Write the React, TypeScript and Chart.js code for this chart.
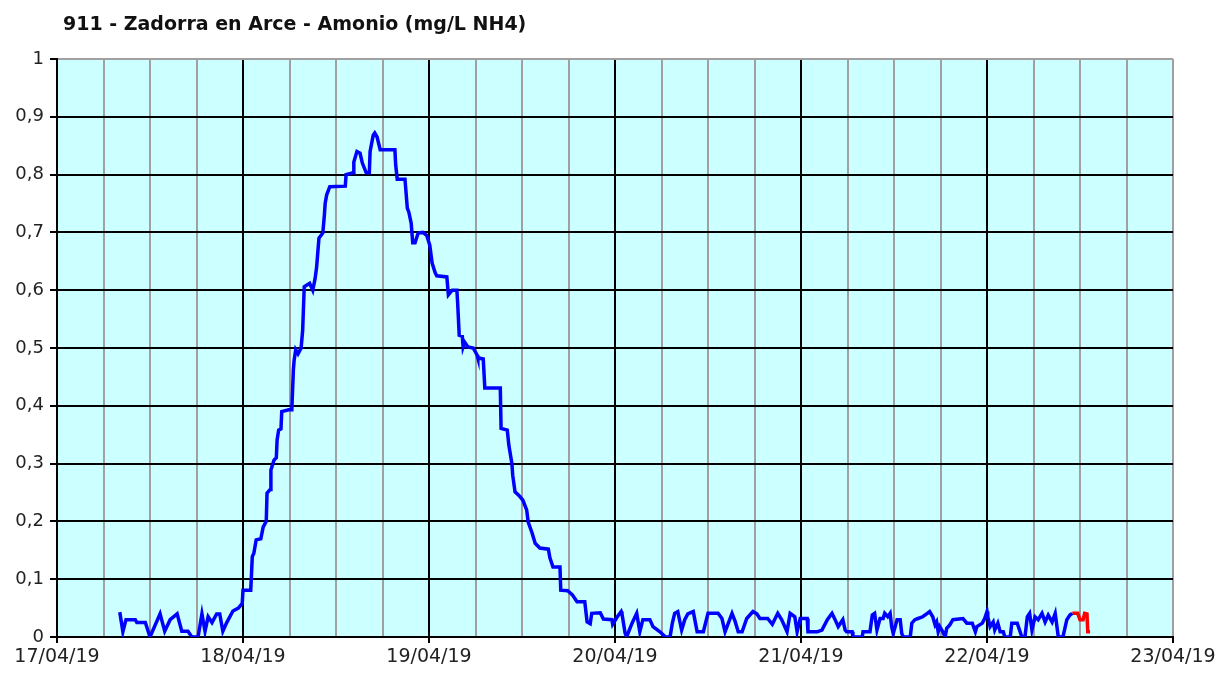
import React, { useEffect, useRef } from "react";
import { Chart, registerables } from "chart.js";

Chart.register(...registerables);

const chartTitle = "911 - Zadorra en Arce - Amonio (mg/L NH4)";
const dayLabels = ["17/04/19", "18/04/19", "19/04/19", "20/04/19", "21/04/19", "22/04/19", "23/04/19"];
const yTickLabels = ["0", "0,1", "0,2", "0,3", "0,4", "0,5", "0,6", "0,7", "0,8", "0,9", "1"];

// hours since 17/04/19 00:00
const blueHours = [
  8.1, 8.5, 8.9, 10.1, 10.3, 11.4, 12.0, 13.3, 13.9, 14.6, 15.5, 16.1, 16.9, 17.4, 18.2, 18.7, 19.1, 19.5, 20.0, 20.6,
  21.0, 21.4, 21.9, 22.7, 23.4, 23.9, 24.0, 25.0, 25.2, 25.4, 25.7, 26.3, 26.6, 27.0, 27.1, 27.5, 27.6, 28.0, 28.3, 28.4,
  28.6, 28.9, 29.0, 29.9, 30.3, 30.5, 30.6, 30.8, 31.1, 31.5, 31.7, 31.9, 32.6, 33.0, 33.3, 33.5, 33.8, 34.3, 34.5, 34.6,
  34.8, 35.2, 37.2, 37.3, 38.2, 38.3, 38.7, 39.1, 39.4, 39.9, 40.3, 40.4, 40.8, 41.0, 41.3, 41.7, 43.6, 43.7, 43.9, 44.9,
  45.2, 45.4, 45.7, 45.9, 46.2, 46.6, 47.2, 47.7, 48.1, 48.4, 48.8, 49.0, 50.3, 50.5, 51.0, 51.6, 51.7, 51.9, 52.3, 52.4,
  52.6, 53.0, 53.7, 54.2, 54.3, 55.0, 55.2, 57.2, 57.3, 58.1, 58.3, 58.7, 58.8, 59.1, 59.6, 60.1, 60.6, 60.8, 61.3, 61.7,
  62.3, 63.4, 63.6, 64.0, 64.9, 65.0, 65.9, 66.5, 67.1, 68.1, 68.4, 68.8, 69.0, 70.1, 70.5, 71.6, 71.7, 72.3, 72.8, 72.9,
  73.3, 73.5, 74.2, 74.8, 75.2, 75.6, 76.5, 76.9, 77.8, 78.5, 79.1, 79.4, 79.7, 80.1, 80.6, 81.0, 81.4, 82.1, 82.6, 83.4,
  84.0, 85.3, 85.8, 86.2, 87.1, 87.5, 87.9, 88.4, 89.0, 89.8, 90.3, 90.7, 91.7, 92.3, 93.0, 93.5, 94.2, 94.6, 95.2, 95.5,
  95.9, 96.8, 96.9, 98.1, 98.7, 99.4, 100.0, 100.4, 100.8, 101.4, 101.7, 101.9, 102.6, 102.7, 103.9, 104.0, 104.9, 105.2, 105.5, 105.8,
  106.2, 106.6, 106.8, 107.2, 107.5, 107.7, 107.9, 108.4, 108.8, 109.0, 109.2, 110.1, 110.3, 110.7, 111.1, 111.7, 112.3, 112.6, 113.0, 113.3,
  113.5, 113.7, 113.9, 114.3, 114.6, 114.8, 115.2, 115.6, 116.9, 117.4, 118.1, 118.5, 118.7, 119.4, 119.7, 120.0, 120.1, 120.4, 120.8, 121.0,
  121.4, 121.7, 122.1, 122.3, 123.0, 123.2, 123.9, 124.5, 124.9, 125.2, 125.5, 125.8, 126.2, 126.6, 127.1, 127.5, 127.9, 128.4, 128.8, 129.2,
  129.8, 130.3, 130.7, 131.0,
];
const blueValues = [
  0.043, 0.009, 0.03, 0.03, 0.025, 0.025, 0, 0.04, 0.01, 0.03, 0.04, 0.01, 0.01, 0, 0, 0.04, 0.01, 0.035, 0.025, 0.04,
  0.04, 0.01, 0.025, 0.045, 0.05, 0.058, 0.081, 0.081, 0.139, 0.145, 0.168, 0.17, 0.19, 0.2, 0.249, 0.255, 0.289, 0.306, 0.31, 0.341,
  0.358, 0.36, 0.39, 0.393, 0.393, 0.462, 0.479, 0.497, 0.49, 0.5, 0.531, 0.606, 0.612, 0.6, 0.62, 0.64, 0.69, 0.699, 0.73, 0.75,
  0.765, 0.779, 0.78, 0.8, 0.803, 0.822, 0.84, 0.837, 0.82, 0.803, 0.803, 0.84, 0.868, 0.872, 0.865, 0.843, 0.843, 0.817, 0.792, 0.792,
  0.742, 0.735, 0.716, 0.682, 0.682, 0.699, 0.7, 0.695, 0.678, 0.647, 0.63, 0.625, 0.623, 0.592, 0.6, 0.6, 0.577, 0.522, 0.52, 0.502,
  0.51, 0.502, 0.5, 0.488, 0.483, 0.481, 0.431, 0.431, 0.361, 0.358, 0.332, 0.3, 0.28, 0.251, 0.245, 0.237, 0.22, 0.199, 0.18, 0.162,
  0.154, 0.152, 0.137, 0.121, 0.121, 0.081, 0.08, 0.073, 0.061, 0.061, 0.026, 0.023, 0.041, 0.042, 0.031, 0.03, 0.022, 0.035, 0.044, 0.04,
  0.007, 0, 0.024, 0.041, 0.009, 0.03, 0.03, 0.018, 0.009, 0, 0, 0.024, 0.041, 0.044, 0.012, 0.03, 0.04, 0.044, 0.009, 0.009,
  0.041, 0.041, 0.032, 0.009, 0.041, 0.027, 0.009, 0.009, 0.032, 0.044, 0.04, 0.032, 0.032, 0.022, 0.041, 0.03, 0.009, 0.041, 0.035, 0.009,
  0.032, 0.032, 0.009, 0.009, 0.012, 0.03, 0.041, 0.03, 0.018, 0.03, 0.012, 0.009, 0.009, 0, 0, 0.009, 0.009, 0.038, 0.041, 0.012,
  0.032, 0.032, 0.041, 0.035, 0.041, 0.018, 0.006, 0.03, 0.03, 0.006, 0, 0, 0.024, 0.03, 0.032, 0.035, 0.041, 0.044, 0.035, 0.021,
  0.026, 0.009, 0.018, 0.009, 0, 0.015, 0.021, 0.03, 0.032, 0.024, 0.024, 0.009, 0.018, 0.024, 0.032, 0.044, 0.035, 0.018, 0.026, 0.012,
  0.024, 0.009, 0.009, 0, 0, 0.024, 0.024, 0, 0, 0.035, 0.041, 0.012, 0.035, 0.03, 0.041, 0.026, 0.038, 0.026, 0.041, 0,
  0, 0.03, 0.038, 0.041,
];
const redHours = [131.0, 131.7, 132.0, 132.4, 132.6, 132.9, 133.0, 133.3];
const redValues = [0.041, 0.041, 0.03, 0.03, 0.041, 0.04, 0.009, 0.009];

const GRID_BLACK = "#000000";
const GRID_GRAY = "#a0a0a0";

const plotBg = {
  id: "plotBg",
  beforeDraw(chart: any) {
    const { ctx, chartArea } = chart;
    ctx.save();
    ctx.fillStyle = "#ccffff";
    ctx.fillRect(chartArea.left, chartArea.top, chartArea.right - chartArea.left, chartArea.bottom - chartArea.top);
    ctx.restore();
  },
};

const titlePlugin = {
  id: "customTitle",
  afterDraw(chart: any) {
    const { ctx } = chart;
    ctx.save();
    ctx.fillStyle = "#111111";
    ctx.font = "bold 19px 'DejaVu Sans'";
    ctx.textBaseline = "alphabetic";
    ctx.textAlign = "left";
    ctx.fillText(chartTitle, 63, 30);
    ctx.restore();
  },
};

export default function App() {
  const canvasRef = useRef<HTMLCanvasElement | null>(null);

  useEffect(() => {
    document.body.style.margin = "0";
    const canvas = canvasRef.current;
    if (!canvas) return;
    const chart = new Chart(canvas, {
      type: "line",
      data: {
        datasets: [
          {
            data: blueHours.map((h, i) => ({ x: h, y: blueValues[i] })),
            borderColor: "#0000ff",
            borderWidth: 3.5,
            pointRadius: 0,
            tension: 0,
            fill: false,
          },
          {
            data: redHours.map((h, i) => ({ x: h, y: redValues[i] })),
            borderColor: "#ff0000",
            borderWidth: 3.5,
            pointRadius: 0,
            tension: 0,
            fill: false,
          },
        ],
      },
      options: {
        responsive: false,
        animation: false,
        events: [],
        layout: { padding: { top: 59, right: 43, bottom: 0, left: 0 } },
        plugins: {
          legend: { display: false },
          title: { display: false },
          tooltip: { enabled: false },
        },
        scales: {
          x: {
            type: "linear",
            min: 0,
            max: 144,
            afterFit(scale: any) {
              scale.height = 36;
              scale.paddingLeft = 0;
              scale.paddingRight = 0;
            },
            afterBuildTicks(scale: any) {
              const t = [];
              for (let v = 0; v <= 144; v += 6) t.push({ value: v });
              scale.ticks = t;
            },
            ticks: {
              autoSkip: false,
              maxRotation: 0,
              padding: 3,
              color: "#222222",
              font: { family: "'DejaVu Sans'", size: 19 },
              callback: (v: any) => (Number(v) % 24 === 0 ? dayLabels[Number(v) / 24] : ""),
            },
            grid: {
              lineWidth: 2,
              tickLength: 6,
              color: (c: any) => {
                const v = c.tick ? c.tick.value : 0;
                if (v === 144) return GRID_GRAY;
                return v % 24 === 0 ? GRID_BLACK : GRID_GRAY;
              },
              tickColor: (c: any) => {
                const v = c.tick ? c.tick.value : 0;
                return v % 24 === 0 ? GRID_BLACK : "rgba(0,0,0,0)";
              },
            },
            border: { display: true, color: GRID_BLACK, width: 2 },
          },
          y: {
            min: 0,
            max: 1,
            afterFit(scale: any) {
              scale.width = 57;
              scale.paddingTop = 0;
              scale.paddingBottom = 0;
            },
            ticks: {
              stepSize: 0.1,
              padding: 6,
              color: "#222222",
              font: { family: "'DejaVu Sans'", size: 18 },
              callback: (v: any) => yTickLabels[Math.round(Number(v) * 10)],
            },
            grid: {
              lineWidth: 2,
              tickLength: 7,
              color: (c: any) => {
                const v = c.tick ? c.tick.value : 0;
                return Math.abs(v - 1) < 1e-6 ? GRID_GRAY : GRID_BLACK;
              },
              tickColor: GRID_BLACK,
            },
            border: { display: true, color: GRID_BLACK, width: 2 },
          },
        },
      },
      plugins: [plotBg, titlePlugin],
    });
    return () => chart.destroy();
  }, []);

  return (
    <div style={{ position: "absolute", left: 0, top: 0, width: 1216, height: 673, background: "#ffffff" }}>
      <canvas ref={canvasRef} width={1216} height={673} style={{ display: "block" }} />
    </div>
  );
}
